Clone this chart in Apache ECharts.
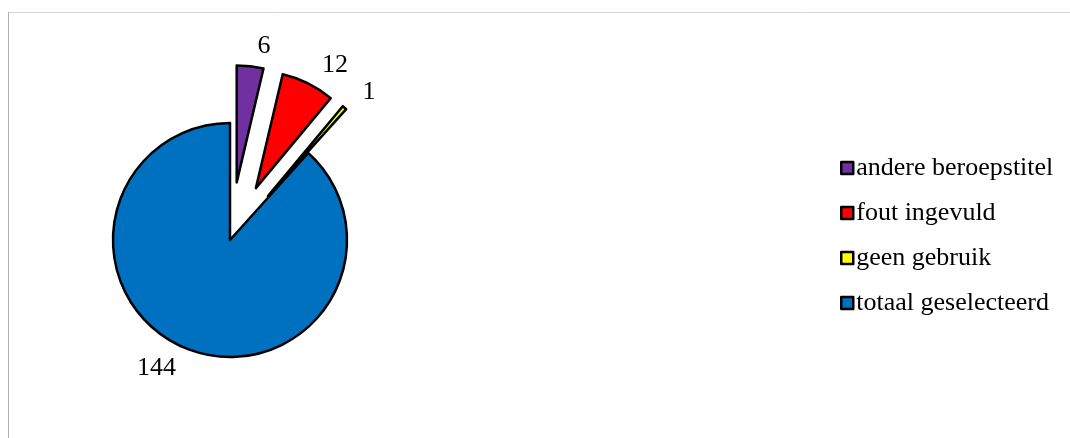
<!DOCTYPE html>
<html>
<head>
<meta charset="utf-8">
<script src="https://cdn.jsdelivr.net/npm/echarts@6/dist/echarts.min.js"></script>
<style>
  html, body { margin: 0; padding: 0; background: #fff; }
  #chart { width: 1070px; height: 438px; }
</style>
</head>
<body>
<div id="chart"></div>
<script>
// Categories and counts
const categories = ['andere beroepstitel', 'fout ingevuld', 'geen gebruik', 'totaal geselecteerd'];
const counts = [6, 12, 1, 144];
const exploded = [true, true, true, false];
const colors = ['#7030A0', '#FF0000', '#FFFF00', '#0070C0'];

const FONT = '"Liberation Serif", "Times New Roman", serif';

const chart = echarts.init(document.getElementById('chart'), null, { renderer: 'canvas' });

const pieData = categories.map((name, i) => ({
  name: name,
  value: counts[i],
  selected: exploded[i],
  itemStyle: { color: colors[i] }
}));

chart.setOption({
  animation: false,
  graphic: [
    { type: 'line', shape: { x1: 8, y1: 12.5, x2: 1070, y2: 12.5 }, style: { stroke: '#d4d4d4', lineWidth: 1 } },
    { type: 'line', shape: { x1: 8.5, y1: 12, x2: 8.5, y2: 438 }, style: { stroke: '#b0b0b0', lineWidth: 1 } }
  ],
  legend: {
    orient: 'vertical',
    left: 835,
    top: 150,
    icon: 'rect',
    itemWidth: 12,
    itemHeight: 12,
    itemGap: 19,
    selectedMode: false,
    textStyle: { fontFamily: FONT, fontSize: 26, color: '#000', lineHeight: 26, padding: [0, 0, 0, -2] },
    itemStyle: { borderColor: '#000', borderWidth: 2.5 },
    data: categories
  },
  series: [{
    type: 'pie',
    center: [230, 240],
    radius: 117,
    startAngle: 90,
    clockwise: true,
    selectedMode: 'multiple',
    selectedOffset: 58,
    avoidLabelOverlap: false,
    itemStyle: { borderColor: '#000', borderWidth: 2.5 },
    select: { itemStyle: { borderColor: '#000', borderWidth: 2.5 } },
    emphasis: { disabled: true },
    label: {
      show: true,
      position: 'outside',
      formatter: '{c}',
      fontFamily: FONT,
      fontSize: 26,
      color: '#000'
    },
    labelLine: { show: false, length: 20, length2: 0 },
    data: pieData
  }]
});
</script>
</body>
</html>
